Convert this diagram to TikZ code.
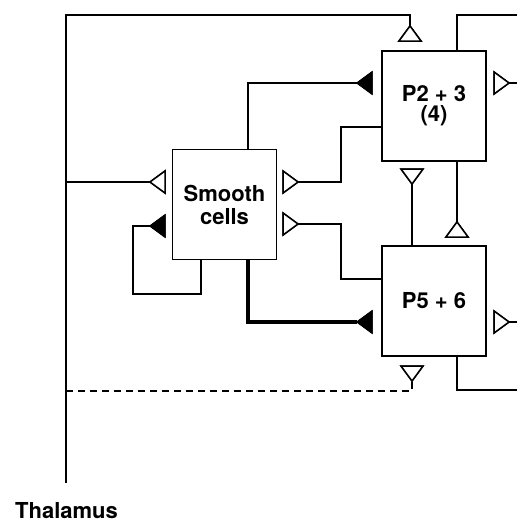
\documentclass[tikz,border=0pt]{standalone}
\usepackage{fontspec}
\setmainfont{TeX Gyre Heros}
\begin{document}
\begin{tikzpicture}[x=1pt,y=-1pt,
  line join=miter,
  wire/.style={line width=1.6pt},
  thickwire/.style={line width=3.6pt},
  cellbox/.style={draw,line width=1.8pt,minimum width=104pt,minimum height=110pt,inner sep=0pt,align=center,font=\fontsize{22}{22}\selectfont\bfseries},
  opentri/.style={draw,line width=1.5pt,fill=white},
  filltri/.style={draw,line width=1.2pt,fill=black}]
\useasboundingbox (0,0) rectangle (517,522);
\newcommand\syn[4]{%
  \coordinate (#1) at (#2);
  \path[#4,shift={(#2)},rotate=#3] (0,0) -- (-15,11) -- (-15,-11) -- cycle;}
% boxes
\node[cellbox] (sm) at (224.5,204.5) {Smooth\\[1pt]cells};
\node[cellbox] (p23) at (434,106) {P2 + 3\\[-2pt](4)};
\node[cellbox] (p56) at (434,301) {P5 + 6};
\node[anchor=base west,inner sep=0pt,font=\fontsize{22}{24}\selectfont\bfseries] (thal) at (15,518) {Thalamus};
% synaptic terminals (apex, direction)
\syn{tTop}{410,26}{90}{opentri}
\syn{t23L}{357,83}{180}{filltri}
\syn{t23R}{509,83}{0}{opentri}
\syn{t23B}{412,184}{270}{opentri}
\syn{t56T}{457,222}{90}{opentri}
\syn{t56L}{357,322}{180}{filltri}
\syn{t56R}{509,322}{0}{opentri}
\syn{t56B}{412,381}{270}{opentri}
\syn{tsL}{150,182}{180}{opentri}
\syn{tsS}{150,226}{180}{filltri}
\syn{tsR1}{298,182}{0}{opentri}
\syn{tsR2}{298,224}{0}{opentri}
% free ends
\coordinate (vTop) at (66,15);
\coordinate (vBot) at (66,483);
\coordinate (eTop) at (517,15);
\coordinate (e23) at (517,83);
\coordinate (e56) at (517,322);
\coordinate (eBot) at (517,390);
\coordinate (xA) at (248,0);
\coordinate (xB) at (201,0);
\coordinate (xC) at (341,0);
\coordinate (xD) at (457,0);
\coordinate (xE) at (412,0);
% thalamus trunk
\draw[wire] (vBot) -- (vTop) -| (tTop);
\draw[wire] (vTop |- tsL) -- (tsL);
\draw[wire,dash pattern=on 7pt off 5pt] (vTop |- 0,391) -- (xE |- 0,391) -- (t56B);
% smooth cells
\draw[wire] (xA |- sm.north) |- (t23L);
\draw[wire] (tsR1) -- (xC |- tsR1) |- (xC |- 0,127) -- (p23.west |- 0,127);
\draw[wire] (tsR2) -- (xC |- tsR2) |- (xC |- 0,279) -- (p56.west |- 0,279);
\draw[wire] (xB |- sm.south) -- (xB |- 0,294) -| (133,226) -- (tsS);
\draw[thickwire] (xA |- sm.south) |- (t56L);
% P2+3
\draw[wire] (xD |- p23.north) |- (eTop);
\draw[wire] (t23R) -- (e23);
\draw[wire] (xD |- p23.south) -- (t56T);
\draw[wire] (t23B) -- (xE |- p56.north);
% P5+6
\draw[wire] (t56R) -- (e56);
\draw[wire] (xD |- p56.south) |- (eBot);
% triangles on top
\syn{tTop}{410,26}{90}{opentri}
\syn{t23L}{357,83}{180}{filltri}
\syn{t23R}{509,83}{0}{opentri}
\syn{t23B}{412,184}{270}{opentri}
\syn{t56T}{457,222}{90}{opentri}
\syn{t56L}{357,322}{180}{filltri}
\syn{t56R}{509,322}{0}{opentri}
\syn{t56B}{412,381}{270}{opentri}
\syn{tsL}{150,182}{180}{opentri}
\syn{tsS}{150,226}{180}{filltri}
\syn{tsR1}{298,182}{0}{opentri}
\syn{tsR2}{298,224}{0}{opentri}
\end{tikzpicture}
\end{document}
